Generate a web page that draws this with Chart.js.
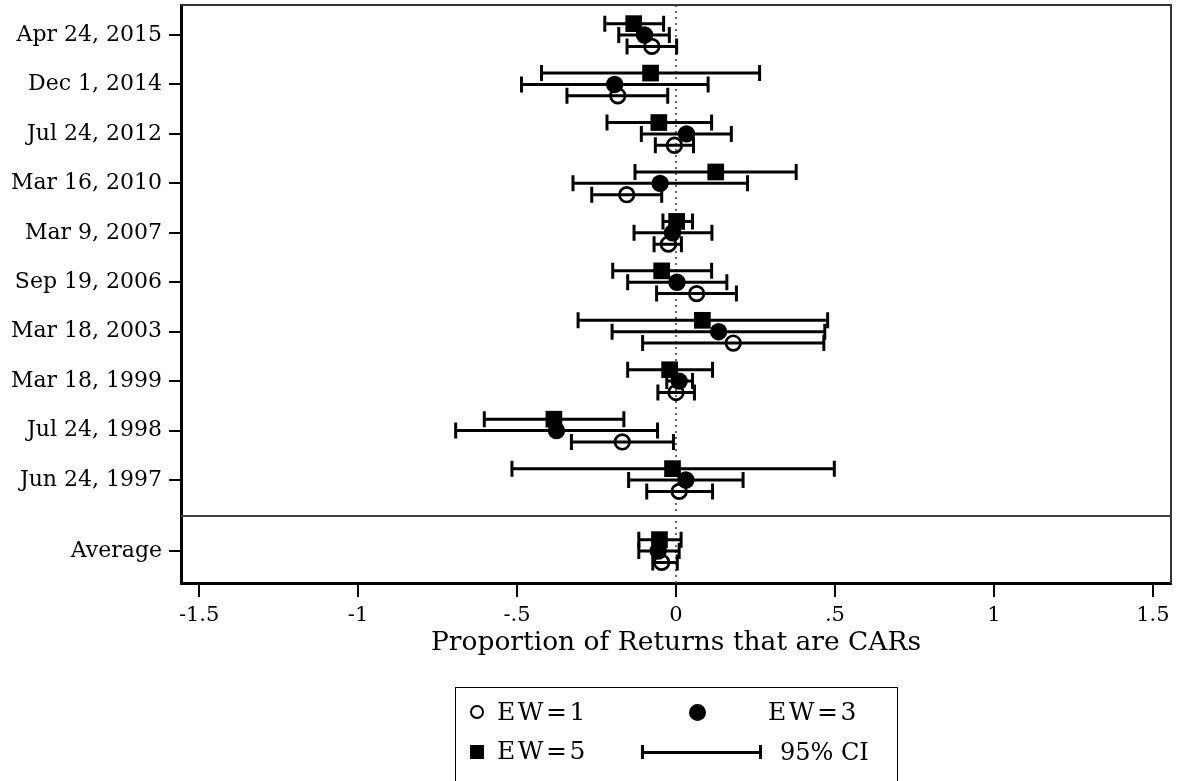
<!DOCTYPE html>
<html>
<head>
<meta charset="utf-8">
<script src="https://cdn.jsdelivr.net/npm/chart.js@4/dist/chart.umd.min.js"></script>
<style>
  html, body { margin: 0; padding: 0; background: #fff; }
  #wrap { position: relative; width: 1177px; height: 781px; overflow: hidden; }
  canvas { position: absolute; left: 0; top: 0; }
  #legend { position: absolute; left: 455px; top: 687px; width: 441px; height: 110px;
            border: 1.5px solid #000; border-bottom: none; font-family: "DejaVu Serif", serif;
            font-size: 24px; color: #000; }
  #legend .t { position: absolute; line-height: 26px; white-space: nowrap; }
  #legend .ew { font-size: 25px; letter-spacing: 2.5px; }
  .hc { position: absolute; width: 10px; height: 10px; border: 2.5px solid #000; border-radius: 50%; }
  .fc { position: absolute; width: 17px; height: 17px; background: #000; border-radius: 50%; }
  .sq { position: absolute; width: 14px; height: 14px; background: #000; }
  .ci { position: absolute; height: 2.5px; background: #000; }
  .cap { position: absolute; width: 2.5px; height: 14px; background: #000; }
</style>
</head>
<body>
<div id="wrap">
  <canvas id="c" width="1177" height="781"></canvas>
  <div id="legend">
    <div class="hc" style="left:14px;top:17px;"></div>
    <div class="t ew" style="left:41px;top:11px;">EW=1</div>
    <div class="fc" style="left:233px;top:16px;"></div>
    <div class="t ew" style="left:312px;top:11px;">EW=3</div>
    <div class="sq" style="left:14px;top:57px;"></div>
    <div class="t ew" style="left:41px;top:50px;">EW=5</div>
    <div class="cap" style="left:185px;top:57px;"></div>
    <div class="ci" style="left:186px;top:63px;width:118px;"></div>
    <div class="cap" style="left:303px;top:57px;"></div>
    <div class="t" style="left:324px;top:51px;">95% CI</div>
  </div>
</div>
<script>
// ---- data ----
const labels = ['Apr 24, 2015','Dec 1, 2014','Jul 24, 2012','Mar 16, 2010','Mar 9, 2007',
                'Sep 19, 2006','Mar 18, 2003','Mar 18, 1999','Jul 24, 1998','Jun 24, 1997','Average'];

const ew1   = [-0.076, -0.183, -0.005, -0.155, -0.024,  0.065,  0.180,  0.000, -0.169,  0.010, -0.045];
const ew1Lo = [-0.154, -0.343, -0.065, -0.265, -0.069, -0.061, -0.105, -0.057, -0.329, -0.092, -0.073];
const ew1Hi = [ 0.002, -0.026,  0.055, -0.045,  0.017,  0.190,  0.465,  0.058, -0.008,  0.115,  0.004];

const ew3   = [-0.099, -0.193,  0.033, -0.050, -0.011,  0.003,  0.134,  0.010, -0.376,  0.031, -0.056];
const ew3Lo = [-0.180, -0.486, -0.109, -0.324, -0.132, -0.152, -0.201, -0.029, -0.693, -0.149, -0.117];
const ew3Hi = [-0.021,  0.101,  0.174,  0.225,  0.113,  0.160,  0.468,  0.052, -0.058,  0.211,  0.010];

const ew5   = [-0.133, -0.080, -0.054,  0.125,  0.002, -0.045,  0.083, -0.020, -0.384, -0.011, -0.052];
const ew5Lo = [-0.224, -0.423, -0.217, -0.129, -0.041, -0.199, -0.308, -0.152, -0.603, -0.516, -0.117];
const ew5Hi = [-0.039,  0.263,  0.112,  0.378,  0.052,  0.112,  0.477,  0.115, -0.164,  0.498,  0.016];

const xTickValues = [-1.5, -1, -0.5, 0, 0.5, 1, 1.5];
const xTickLabels = ['-1.5', '-1', '-.5', '0', '.5', '1', '1.5'];
const xTitle = 'Proportion of Returns that are CARs';

// ---- layout helpers ----
const AVG_GAP = 0.436;
const rowPos = labels.map((l, i) => i + (l === 'Average' ? AVG_GAP : 0));
const SEP_POS = 9.728;
const OFF = 0.23;
const FONT = '"DejaVu Serif", serif';

function pts(vals, off) { return vals.map((v, i) => ({ x: v, y: rowPos[i] + off })); }

const errorBars = {
  id: 'errorBars',
  beforeDatasetsDraw(chart) {
    const { ctx, scales: { x, y } } = chart;
    ctx.save();
    ctx.strokeStyle = '#000';
    ctx.lineWidth = 3;
    chart.data.datasets.forEach(ds => {
      ds.data.forEach((p, i) => {
        const py = y.getPixelForValue(p.y);
        const x1 = x.getPixelForValue(ds.lo[i]);
        const x2 = x.getPixelForValue(ds.hi[i]);
        ctx.beginPath();
        ctx.moveTo(x1, py); ctx.lineTo(x2, py);
        ctx.moveTo(x1, py - 8); ctx.lineTo(x1, py + 8);
        ctx.moveTo(x2, py - 8); ctx.lineTo(x2, py + 8);
        ctx.stroke();
      });
    });
    ctx.restore();
  }
};

const frame = {
  id: 'frame',
  beforeDatasetsDraw(chart) {
    const { ctx, chartArea: a, scales: { x, y } } = chart;
    ctx.save();
    const x0 = x.getPixelForValue(0);
    ctx.strokeStyle = '#666';
    ctx.lineWidth = 2;
    ctx.setLineDash([2, 4]);
    ctx.beginPath(); ctx.moveTo(x0, a.top); ctx.lineTo(x0, a.bottom); ctx.stroke();
    ctx.setLineDash([]);
    const ys = y.getPixelForValue(SEP_POS);
    ctx.strokeStyle = '#444';
    ctx.lineWidth = 2;
    ctx.beginPath(); ctx.moveTo(a.left, ys); ctx.lineTo(a.right, ys); ctx.stroke();
    ctx.strokeStyle = '#333';
    ctx.lineWidth = 2;
    ctx.beginPath();
    ctx.moveTo(a.left, a.top); ctx.lineTo(a.right, a.top); ctx.lineTo(a.right, a.bottom);
    ctx.stroke();
    ctx.restore();
  }
};

new Chart(document.getElementById('c'), {
  type: 'scatter',
  data: {
    datasets: [
      { label: 'EW=5', data: pts(ew5, -OFF), lo: ew5Lo, hi: ew5Hi,
        pointStyle: 'rect', pointRadius: 11.8, backgroundColor: '#000', borderColor: '#000', borderWidth: 0 },
      { label: 'EW=3', data: pts(ew3, 0), lo: ew3Lo, hi: ew3Hi,
        pointStyle: 'circle', pointRadius: 8.7, backgroundColor: '#000', borderColor: '#000', borderWidth: 0 },
      { label: 'EW=1', data: pts(ew1, OFF), lo: ew1Lo, hi: ew1Hi,
        pointStyle: 'circle', pointRadius: 7.3, backgroundColor: 'rgba(0,0,0,0)', borderColor: '#000', borderWidth: 2.7 }
    ]
  },
  options: {
    responsive: false,
    animation: false,
    events: [],
    layout: { autoPadding: false, padding: { top: 5, right: 6, bottom: 118, left: 0 } },
    plugins: { legend: { display: false }, tooltip: { enabled: false } },
    scales: {
      x: {
        type: 'linear', min: -1.557, max: 1.557,
        afterBuildTicks: s => { s.ticks = xTickValues.map(v => ({ value: v })); },
        afterFit: s => { s.height = 80; s.paddingLeft = 0; s.paddingRight = 0; },
        ticks: { autoSkip: false, maxRotation: 0, color: '#000', padding: 6,
                 font: { family: FONT, size: 21 },
                 callback: (v, i) => xTickLabels[i] },
        grid: { drawOnChartArea: false, drawTicks: true, tickLength: 14, color: '#000', lineWidth: 2 },
        border: { display: true, color: '#000', width: 3 },
        title: { display: true, text: xTitle, color: '#000', font: { family: FONT, size: 26.5 }, padding: { top: 2 } }
      },
      y: {
        type: 'linear', reverse: true, min: -0.607, max: 11.083,
        afterBuildTicks: s => { s.ticks = rowPos.map(v => ({ value: v })); },
        afterFit: s => { s.width = 181; s.paddingTop = 0; s.paddingBottom = 0; },
        ticks: { autoSkip: false, color: '#000', padding: 7,
                 font: { family: FONT, size: 22 },
                 callback: (v, i) => labels[i] },
        grid: { drawOnChartArea: false, drawTicks: true, tickLength: 12, color: '#000', lineWidth: 2 },
        border: { display: true, color: '#000', width: 3 }
      }
    }
  },
  plugins: [frame, errorBars]
});
</script>
</body>
</html>
